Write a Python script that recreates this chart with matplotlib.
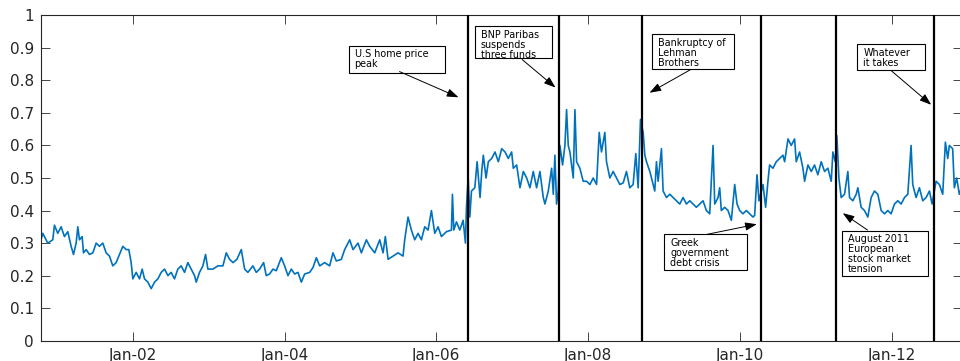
import matplotlib
matplotlib.use("Agg")
import matplotlib.pyplot as plt
from matplotlib.patches import Rectangle

# ---------------- data (decimal years, index value) ----------------
years = [
    2000.790, 2000.813, 2000.879, 2000.945, 2000.967, 2001.011, 2001.055, 2001.099, 2001.143, 2001.187,
    2001.218, 2001.253, 2001.275, 2001.297, 2001.332, 2001.350, 2001.385, 2001.429, 2001.473, 2001.517,
    2001.560, 2001.604, 2001.648, 2001.692, 2001.736, 2001.780, 2001.824, 2001.868, 2001.912, 2001.947,
    2001.978, 2002.000, 2002.044, 2002.088, 2002.123, 2002.154, 2002.198, 2002.242, 2002.286, 2002.330,
    2002.374, 2002.418, 2002.462, 2002.505, 2002.549, 2002.593, 2002.637, 2002.681, 2002.725, 2002.769,
    2002.813, 2002.835, 2002.879, 2002.923, 2002.958, 2002.989, 2003.055, 2003.121, 2003.187, 2003.231,
    2003.275, 2003.319, 2003.371, 2003.429, 2003.473, 2003.516, 2003.582, 2003.626, 2003.670, 2003.723,
    2003.758, 2003.802, 2003.846, 2003.890, 2003.956, 2004.000, 2004.044, 2004.088, 2004.132, 2004.176,
    2004.220, 2004.264, 2004.330, 2004.374, 2004.418, 2004.462, 2004.527, 2004.593, 2004.637, 2004.681,
    2004.747, 2004.791, 2004.857, 2004.901, 2004.967, 2005.011, 2005.077, 2005.121, 2005.187, 2005.253,
    2005.297, 2005.327, 2005.363, 2005.429, 2005.495, 2005.560, 2005.582, 2005.626, 2005.670, 2005.714,
    2005.758, 2005.802, 2005.846, 2005.890, 2005.934, 2005.978, 2006.022, 2006.066, 2006.132, 2006.198,
    2006.211, 2006.229, 2006.264, 2006.308, 2006.352, 2006.382, 2006.396, 2006.418, 2006.440, 2006.462,
    2006.506, 2006.536, 2006.575, 2006.597, 2006.618, 2006.654, 2006.684, 2006.728, 2006.772, 2006.816,
    2006.860, 2006.904, 2006.947, 2006.991, 2007.013, 2007.057, 2007.101, 2007.145, 2007.189, 2007.232,
    2007.276, 2007.320, 2007.364, 2007.408, 2007.430, 2007.474, 2007.518, 2007.540, 2007.561, 2007.583,
    2007.605, 2007.627, 2007.662, 2007.693, 2007.715, 2007.737, 2007.759, 2007.803, 2007.825, 2007.847,
    2007.890, 2007.934, 2007.978, 2008.022, 2008.066, 2008.110, 2008.145, 2008.175, 2008.219, 2008.241,
    2008.285, 2008.329, 2008.373, 2008.417, 2008.461, 2008.504, 2008.548, 2008.592, 2008.627, 2008.658,
    2008.689, 2008.724, 2008.746, 2008.768, 2008.812, 2008.855, 2008.877, 2008.899, 2008.921, 2008.965,
    2008.987, 2009.031, 2009.075, 2009.118, 2009.162, 2009.206, 2009.250, 2009.294, 2009.338, 2009.382,
    2009.425, 2009.469, 2009.513, 2009.557, 2009.601, 2009.645, 2009.667, 2009.711, 2009.732, 2009.754,
    2009.798, 2009.842, 2009.886, 2009.930, 2009.961, 2009.996, 2010.039, 2010.083, 2010.127, 2010.171,
    2010.193, 2010.224, 2010.250, 2010.303, 2010.338, 2010.368, 2010.390, 2010.434, 2010.478, 2010.522,
    2010.566, 2010.588, 2010.632, 2010.675, 2010.719, 2010.741, 2010.785, 2010.829, 2010.851, 2010.895,
    2010.939, 2010.982, 2011.026, 2011.070, 2011.114, 2011.158, 2011.202, 2011.224, 2011.255, 2011.276,
    2011.303, 2011.333, 2011.377, 2011.421, 2011.443, 2011.487, 2011.531, 2011.553, 2011.596, 2011.640,
    2011.684, 2011.728, 2011.772, 2011.816, 2011.860, 2011.904, 2011.947, 2011.991, 2012.035, 2012.079,
    2012.123, 2012.167, 2012.211, 2012.254, 2012.276, 2012.320, 2012.364, 2012.408, 2012.452, 2012.496,
    2012.531, 2012.583, 2012.627, 2012.671, 2012.706, 2012.737, 2012.758, 2012.802, 2012.824, 2012.855,
    2012.890, 2012.920,
]
values = [
    0.31, 0.33, 0.30, 0.31, 0.355, 0.33, 0.35, 0.32, 0.335, 0.29,
    0.265, 0.30, 0.35, 0.31, 0.32, 0.27, 0.28, 0.265, 0.27, 0.30,
    0.29, 0.30, 0.27, 0.26, 0.23, 0.24, 0.265, 0.29, 0.28, 0.28,
    0.24, 0.19, 0.21, 0.19, 0.22, 0.19, 0.18, 0.16, 0.18, 0.19,
    0.21, 0.22, 0.20, 0.21, 0.19, 0.22, 0.23, 0.21, 0.24, 0.22,
    0.20, 0.18, 0.21, 0.23, 0.265, 0.22, 0.22, 0.23, 0.23, 0.27,
    0.25, 0.24, 0.25, 0.28, 0.22, 0.21, 0.23, 0.21, 0.22, 0.24,
    0.20, 0.205, 0.22, 0.215, 0.255, 0.23, 0.20, 0.22, 0.205, 0.21,
    0.18, 0.205, 0.21, 0.225, 0.255, 0.23, 0.24, 0.23, 0.27, 0.245,
    0.25, 0.28, 0.31, 0.28, 0.30, 0.27, 0.31, 0.29, 0.27, 0.31,
    0.27, 0.32, 0.25, 0.26, 0.27, 0.26, 0.31, 0.38, 0.34, 0.31,
    0.33, 0.31, 0.35, 0.34, 0.40, 0.33, 0.35, 0.32, 0.335, 0.34,
    0.45, 0.34, 0.365, 0.34, 0.37, 0.30, 0.41, 0.50, 0.38, 0.46,
    0.47, 0.55, 0.44, 0.52, 0.57, 0.50, 0.55, 0.56, 0.58, 0.55,
    0.59, 0.58, 0.56, 0.58, 0.53, 0.54, 0.47, 0.52, 0.50, 0.47,
    0.52, 0.47, 0.52, 0.44, 0.42, 0.46, 0.53, 0.45, 0.57, 0.42,
    0.46, 0.60, 0.54, 0.60, 0.71, 0.60, 0.58, 0.50, 0.71, 0.55,
    0.53, 0.49, 0.49, 0.48, 0.50, 0.48, 0.64, 0.58, 0.64, 0.55,
    0.50, 0.52, 0.50, 0.48, 0.485, 0.52, 0.47, 0.48, 0.575, 0.47,
    0.68, 0.64, 0.57, 0.55, 0.52, 0.48, 0.46, 0.55, 0.49, 0.59,
    0.46, 0.44, 0.45, 0.44, 0.43, 0.42, 0.44, 0.42, 0.43, 0.42,
    0.41, 0.42, 0.43, 0.40, 0.39, 0.60, 0.42, 0.44, 0.47, 0.40,
    0.41, 0.40, 0.37, 0.48, 0.42, 0.40, 0.39, 0.40, 0.39, 0.38,
    0.385, 0.51, 0.43, 0.48, 0.41, 0.49, 0.54, 0.53, 0.55, 0.56,
    0.57, 0.55, 0.62, 0.60, 0.62, 0.55, 0.58, 0.53, 0.49, 0.54,
    0.52, 0.54, 0.51, 0.55, 0.52, 0.53, 0.49, 0.58, 0.55, 0.63,
    0.50, 0.44, 0.45, 0.52, 0.44, 0.43, 0.45, 0.47, 0.41, 0.40,
    0.38, 0.44, 0.46, 0.45, 0.40, 0.39, 0.40, 0.39, 0.42, 0.43,
    0.42, 0.44, 0.45, 0.60, 0.48, 0.44, 0.47, 0.43, 0.44, 0.46,
    0.42, 0.49, 0.48, 0.45, 0.61, 0.56, 0.60, 0.59, 0.47, 0.50,
    0.45, 0.47,
]

event_years = [2006.418, 2007.618, 2008.706, 2010.281, 2011.268, 2012.561]

xtick_pos = [2002, 2004, 2006, 2008, 2010, 2012]
xtick_labels = ["Jan-02", "Jan-04", "Jan-06", "Jan-08", "Jan-10", "Jan-12"]
ytick_pos = [0, 0.1, 0.2, 0.3, 0.4, 0.5, 0.6, 0.7, 0.8, 0.9, 1]
ytick_labels = ["0", "0.1", "0.2", "0.3", "0.4", "0.5", "0.6", "0.7", "0.8", "0.9", "1"]

# annotation texts
ann_texts = [
    "U.S home price\npeak",
    "BNP Paribas\nsuspends\nthree funds",
    "Bankruptcy of\nLehman\nBrothers",
    "Greek\ngovernment\ndebt crisis",
    "August 2011\nEuropean\nstock market\ntension",
    "Whatever\nit takes",
]
# layout of annotations: box (x0, x1, y_top, y_bottom), text anchor (x, y_top), arrow tail, arrow head
ann_boxes = [
    (2004.842, 2006.107, 0.907, 0.824),
    (2006.511, 2007.526, 0.966, 0.870),
    (2008.834, 2009.918, 0.942, 0.834),
    (2009.005, 2010.086, 0.327, 0.217),
    (2011.346, 2012.483, 0.3365, 0.1985),
    (2011.548, 2012.444, 0.911, 0.833),
]
ann_text_pos = [
    (2004.921, 0.895),
    (2006.581, 0.955),
    (2008.917, 0.930),
    (2009.080, 0.315),
    (2011.420, 0.327),
    (2011.627, 0.899),
]
ann_tails = [
    (2005.514, 0.827),
    (2007.130, 0.864),
    (2009.348, 0.833),
    (2009.568, 0.327),
    (2011.680, 0.340),
    (2011.992, 0.830),
]
ann_heads = [
    (2006.291, 0.748),
    (2007.569, 0.778),
    (2008.808, 0.762),
    (2010.221, 0.358),
    (2011.354, 0.392),
    (2012.519, 0.725),
]

# ---------------- figure ----------------
plt.rcParams["font.family"] = ["DejaVu Sans"]
fig = plt.figure(figsize=(9.6, 3.61), dpi=100)
ax = fig.add_axes([41 / 960, 20.3 / 361, 921 / 960, 325.4 / 361])

ax.plot(years, values, color="#0072BD", lw=1.2, zorder=2)

for ex in event_years:
    ax.axvline(ex, color="black", lw=1.6, zorder=3)

for txt, (x0, x1, yt, yb), (tx, ty), tail, head in zip(ann_texts, ann_boxes, ann_text_pos, ann_tails, ann_heads):
    ax.add_patch(Rectangle((x0, yb), x1 - x0, yt - yb, facecolor="white",
                           edgecolor="black", lw=0.8, zorder=4))
    ax.text(tx, ty, txt, ha="left", va="top", fontsize=6.9, color="black",
            linespacing=0.98, zorder=5)
    ax.annotate("", xy=head, xytext=tail,
                arrowprops=dict(arrowstyle="-|>,head_length=0.7,head_width=0.25",
                                color="black", lw=0.7, shrinkA=0, shrinkB=0,
                                mutation_scale=10), zorder=5)

ax.set_xlim(2000.79, 2012.925)
ax.set_ylim(0, 1)
ax.set_xticks(xtick_pos)
ax.set_xticklabels(xtick_labels)
ax.set_yticks(ytick_pos)
ax.set_yticklabels(ytick_labels)

ax.tick_params(direction="in", top=True, right=True, length=6.5, width=0.6,
               colors="#262626", labelsize=11, pad=5)
for s in ax.spines.values():
    s.set_color("#262626")
    s.set_linewidth(0.8)

fig.savefig("out.png", dpi=100, facecolor="white")
